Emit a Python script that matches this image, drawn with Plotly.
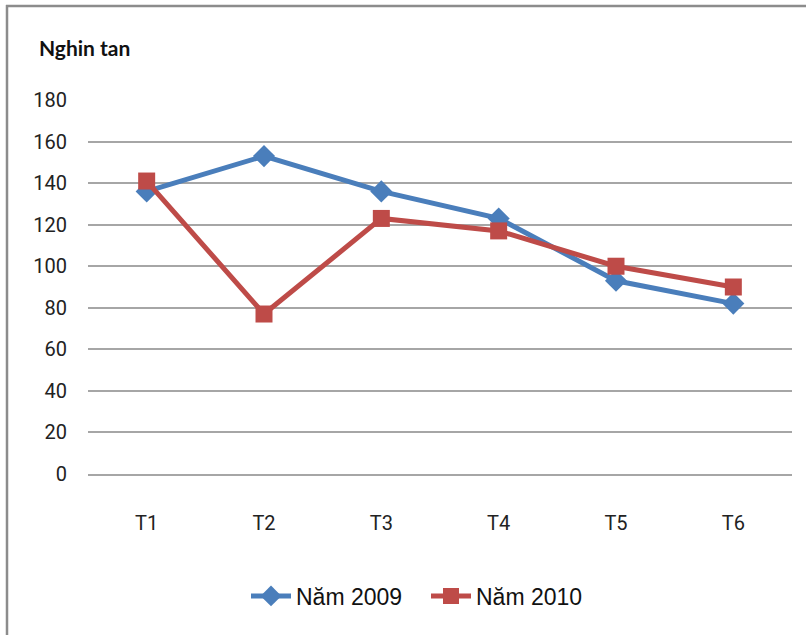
import plotly.graph_objects as go

# Monthly output (thousand tonnes)
months = ["T1", "T2", "T3", "T4", "T5", "T6"]
values_2009 = [136, 153, 136, 123, 93, 82]
values_2010 = [141, 77, 123, 117, 100, 90]
y_ticks = [0, 20, 40, 60, 80, 100, 120, 140, 160, 180]

BLUE = "#4A7EBB"
RED = "#BE4B48"
GRID = "#A6A6A6"
TICK_FONT = dict(family="Roboto, Lato, sans-serif", size=20, color="#222222")

fig = go.Figure()
fig.add_trace(go.Scatter(
    x=months, y=values_2009, name="Năm 2009", mode="lines+markers",
    line=dict(color=BLUE, width=5),
    marker=dict(symbol="diamond", size=17, color=BLUE),
))
fig.add_trace(go.Scatter(
    x=months, y=values_2010, name="Năm 2010", mode="lines+markers",
    line=dict(color=RED, width=5),
    marker=dict(symbol="square", size=17, color=RED),
))

L, R, T, B = 88, 14, 100, 161
W, H = 806, 635
pw, ph = W - L - R, H - T - B


def px_x(px):
    return (px - L) / pw


def px_y(py):
    return (H - B - py) / ph


fig.update_layout(
    width=W, height=H,
    margin=dict(l=L, r=R, t=T, b=B),
    paper_bgcolor="white", plot_bgcolor="white",
    showlegend=True,
    legend=dict(
        orientation="h", x=px_x(426), xanchor="center",
        y=px_y(596), yanchor="middle",
        font=dict(family="Liberation Sans, Arial, sans-serif", size=23, color="#111111"),
        itemwidth=40, tracegroupgap=0,
        entrywidth=125, entrywidthmode="pixels",
    ),
    xaxis=dict(
        range=[-0.5, 5.5],
        showgrid=False, showline=True, linecolor=GRID, linewidth=1.5,
        ticks="", tickfont=TICK_FONT, ticklabelstandoff=30,
        zeroline=False, fixedrange=True,
    ),
    yaxis=dict(
        range=[0, 180], tickvals=y_ticks, showgrid=True,
        gridcolor=GRID, gridwidth=1.5, showline=False, zeroline=False,
        ticks="", tickfont=TICK_FONT, ticklabelstandoff=20,
        fixedrange=True,
    ),
    annotations=[dict(
        text="<b>Nghin tan</b>", xref="paper", yref="paper",
        x=px_x(37), y=px_y(47), xanchor="left", yanchor="middle",
        showarrow=False,
        font=dict(family="Lato, Roboto, sans-serif", size=21, color="#111111"),
    )],
    shapes=[
        # outer frame: left edge and top edge
        dict(type="line", xref="paper", yref="paper",
             x0=px_x(7), x1=px_x(7), y0=px_y(5), y1=px_y(640),
             line=dict(color="#8C8C8C", width=2.5)),
        dict(type="line", xref="paper", yref="paper",
             x0=px_x(6), x1=px_x(810), y0=px_y(6), y1=px_y(6),
             line=dict(color="#8C8C8C", width=2.5)),
    ],
)

fig.write_html("out.html")
